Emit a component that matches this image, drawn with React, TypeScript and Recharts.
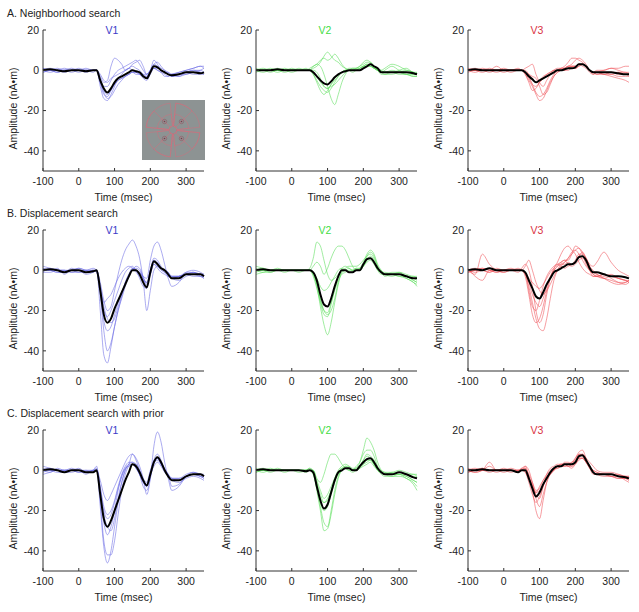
import React from "react";
import { LineChart, Line, XAxis, YAxis } from "recharts";

// time axis (msec), denser around the response
const TIME = [-100, -80, -60, -40, -20, 0, 20, 40, 50, 60, 70, 80, 90, 100, 110, 120, 130, 140, 150, 160, 170, 180, 190, 200, 210, 220, 230, 240, 250, 260, 280, 300, 320, 340, 350];
const X_TICKS = [-100, 0, 100, 200, 300];
const Y_TICKS = [-40, -20, 0, 20];
const ROW_TITLES = ["A. Neighborhood search", "B. Displacement search", "C. Displacement search with prior"];
const AREAS = ["V1", "V2", "V3"];

// A. Neighborhood search
const A_V1_MEAN = [0, 0.5, 0, -0.5, 0, 0, -0.5, 0, 0, -5, -9, -11, -9, -6, -4, -3, -2, -1, 0, -0.5, -1, -3, -4, -1, 2, 1.5, 0, -1, -2, -2.5, -2, -1, -1, -1.5, -1];
const A_V1_TRIALS = [
  [1, 0, -1, 0, 0, 1, 0, 0, 0, -8, -14, -15, -12, -8, -4, -2, 0, 1, 0, -1, -2, -4, -5, -2, 1, 1, 0, -1, -2, -3, -2, -2, -1, -1, -1],
  [0, 1, 0, -1, 0, 0, 0, -1, 0, -6, -12, -13, -10, -7, -5, -4, -3, -2, -1, -1, -2, -3, -4, -1, 3, 2, 0, -1, -2, -2, -3, -1, 0, -1, -2],
  [-1, 0, 1, 0, 0, -1, 0, 0, 0, -3, -6, -5, 2, 6, 5, 3, 0, 1, 3, 4, 5, 2, -2, 0, 5, 3, 0, -1, -1, -2, -1, 0, 1, 2, 2],
  [0, -1, 0, 1, 0, 0, 1, 0, 0, -4, -8, -8, -5, -2, 0, 1, 2, 3, 4, 5, 3, 0, -2, 0, 2, 2, 1, 0, -2, -3, -3, -2, -1, 0, 1],
  [1, 0, 0, 0, -1, 0, 0, 0, 0, -5, -10, -12, -10, -7, -5, -4, -3, -2, -1, -2, -2, -3, -3, -1, 1, 0, -1, -2, -3, -2, -1, 0, 1, 2, 1],
  [0, 0, -1, 0, 1, 0, 0, 0, 0, -2, -5, -6, -4, -3, -2, -1, 0, 1, 2, 1, 0, -2, -3, 0, 3, 4, 2, 0, -1, -3, -2, -1, 0, 0, -1],
  [-1, 0, 0, 0, 0, 0, -1, 0, 0, -6, -11, -14, -13, -10, -7, -5, -3, -2, -1, -1, -1, -2, -2, 0, 1, 0, -1, -3, -3, -2, -2, -1, -2, -2, -2],
];
const A_V2_MEAN = [0, 0, 0, 0.5, 0, 0, 0, 0, 0, -1, -3, -5, -6.5, -7, -5.5, -3.5, -2, -1, -0.5, 0, 0, 0, 0, 1, 2, 3, 2, 1, -1, -1, -1, -1, -1, -1.5, -2];
const A_V2_TRIALS = [
  [0, 1, 0, 0, -1, 0, 0, 0, 1, 2, 3, 2, -2, -8, -14, -17, -12, -6, -2, 0, 0, 1, 2, 3, 4, 4, 2, 0, -1, -2, -2, -1, 0, -1, -2],
  [-1, 0, 0, 1, 0, 0, 1, 0, 0, -2, -6, -10, -12, -10, -7, -4, -2, -1, 0, 0, 0, 0, 0, 2, 3, 3, 1, 0, -1, 0, 2, 0, -1, -2, -2],
  [0, 0, 1, 0, 0, -1, 0, 0, 0, 1, 2, 4, 7, 9, 7, 5, 4, 2, 1, 0, 0, 0, 1, 2, 2, 3, 2, 1, 0, -1, -1, -2, -2, -3, -3],
  [0, -1, 0, 0, 0, 0, 0, 1, 0, 0, -1, -4, -8, -9, -8, -7, -5, -3, -1, 0, 1, 1, 2, 4, 5, 4, 2, 0, -1, -1, 0, -1, -2, -2, -1],
  [1, 0, 0, 0, 1, 0, 0, 0, 0, 2, 3, 5, 6, 5, 6, 8, 6, 3, 1, 0, -1, 0, 1, 2, 3, 2, 1, 0, -1, -1, -1, 0, 1, -1, -1],
  [0, 0, -1, 0, 0, 1, 0, 0, 0, -2, -5, -8, -10, -11, -9, -6, -3, -1, 0, 1, 1, 1, 1, 2, 2, 2, 1, 0, -2, -2, -1, -1, -2, -3, -3],
  [0, 0, 0, -1, 0, 0, 0, 0, 0, -1, -3, -6, -8, -9, -7, -5, -3, -1, 0, 0, 0, 0, 0, 1, 2, 2, 1, 0, 0, 1, 3, 2, 0, -1, -2],
];
const A_V3_MEAN = [0, 0.5, 0, 0, 0, 0, 0, 0, 0, -1, -3, -4.5, -6, -5, -4, -3, -2, -1, 0, 0, 0.5, 1, 1, 1.5, 3, 3, 2, 0, -1, -1, -1, -1, -1.5, -2, -2];
const A_V3_TRIALS = [
  [0, 1, 0, 0, 0, 0, 0, 0, 0, -2, -5, -8, -12, -15, -14, -10, -6, -3, -1, 0, 1, 2, 3, 5, 6, 5, 3, 0, -1, -1, -2, -3, -4, -5, -6],
  [0, 0, 1, 0, -1, 0, 0, 0, 0, 1, 2, 3, -2, -6, -8, -5, -2, 0, 1, 1, 1, 2, 2, 2, 3, 3, 2, 0, -1, 0, 0, 1, 1, 2, 2],
  [-1, 0, 0, 1, 0, 0, -1, 0, 0, -2, -6, -10, -9, -6, -4, -3, -2, -1, 0, 0, 0, 0, 1, 1, 2, 3, 2, 0, -1, -2, -1, -1, -1, -2, -2],
  [0, 0, 0, 0, 2, 0, 0, 0, 0, -1, -3, -7, -11, -13, -12, -9, -5, -2, 0, 1, 2, 4, 6, 6, 5, 4, 2, 0, -1, -1, -2, -2, -3, -3, -3],
  [1, 0, -1, 0, 0, 1, 0, 0, 0, 0, -2, -4, -6, -5, -3, -2, -1, 0, 0, 0, 0, 1, 1, 1, 2, 3, 2, 0, -2, -1, -1, -2, -1, -1, -2],
  [0, 0, 0, -1, 0, 0, 0, 1, 0, -1, -2, -3, -4, -8, -12, -11, -7, -3, -1, 0, 1, 2, 2, 2, 3, 2, 1, -1, -2, -1, 0, 1, 0, -1, -1],
  [0, -1, 0, 0, 0, -1, 0, 0, 0, -1, -4, -7, -8, -6, -4, -2, -1, 0, 0, 1, 1, 1, 2, 2, 3, 3, 2, 0, -1, -2, -2, -1, -2, -2, -3],
];

// B. Displacement search
const B_V1_MEAN = [0, 0.5, 0, -1, 0, 0, -1, -0.5, 0, -10, -22, -26, -24, -19, -15, -11, -7, -3, 0, 0, -2, -6, -8.5, -1, 4.5, 3, 1, 0, -2, -4, -4, -2, -2, -2, -3];
const B_V1_TRIALS = [
  [1, 0, -1, -1, 0, 1, 0, -1, 0, -20, -42, -46, -38, -28, -20, -13, -7, -3, 0, 1, 0, -4, -8, -2, 3, 2, 0, -1, -3, -4, -3, -2, -1, -2, -3],
  [-1, 1, 0, 0, -1, 0, -1, 0, -1, -12, -30, -40, -36, -28, -20, -14, -8, -3, 1, 0, -4, -8, -9, 0, 5, 4, 1, -1, -2, -3, -3, -2, -1, -2, -2],
  [0, 0, 1, -2, 0, -1, 0, 0, 0, -6, -15, -20, -18, -10, -2, 5, 10, 13, 15, 12, 6, -5, -20, -10, 0, 2, 1, 0, -2, -4, -3, -2, -2, -3, -3],
  [2, 1, 0, -1, 1, 0, 0, 1, 0, -8, -18, -24, -26, -24, -18, -12, -6, -2, 1, 0, -1, -4, -6, 0, 6, 5, 2, 0, -1, -4, -5, -3, -2, -2, -3],
  [-1, -1, 0, 0, -1, -1, -1, 0, -1, -10, -20, -23, -20, -15, -10, -5, -1, 1, 2, 0, -1, -3, -4, 5, 12, 14, 10, 3, -4, -8, -6, -1, 0, -1, -2],
  [0, 0, -1, -1, 0, 0, -2, -1, 0, -8, -16, -14, -12, -8, -4, -1, 1, 2, 1, -1, -3, -5, -6, -2, 3, 1, -1, -2, -3, -3, -3, -2, -3, -3, -4],
  [1, 0, 0, 0, 0, 1, 0, 0, 0, -10, -25, -30, -28, -22, -16, -11, -6, -2, 0, 2, 1, -3, -7, 0, 4, 3, 1, 0, -1, -3, -3, -1, -1, -3, -4],
];
const B_V2_MEAN = [0, 0.5, 0, 0, 0, 0, 0, 0, 0, -1, -5, -12, -17, -18, -14, -8, -3, 0, 0, -1, -1, 0, 0, 3, 5.5, 6, 4, 1, -1, -2, -2, -2, -3, -4, -4];
const B_V2_TRIALS = [
  [1, 0, 0, 0, 0, 0, 0, 0, 1, 6, 14, 12, 5, -2, -5, -4, -2, 0, 1, 2, 2, 2, 3, 5, 7, 8, 6, 2, -1, -2, -2, -2, -3, -5, -6],
  [0, 0, -1, 0, 0, 0, 0, 0, 0, 2, 4, 2, -2, 1, 6, 10, 12, 12, 10, 6, 2, 0, 1, 4, 8, 10, 8, 3, 0, -2, -3, -2, -3, -5, -6],
  [-1, 0, 0, 1, 0, 0, -1, 0, 0, -2, -8, -18, -27, -32, -26, -16, -7, -1, 0, -1, -1, 0, 0, 3, 6, 6, 4, 1, -1, -1, -2, -3, -4, -6, -7],
  [0, 1, 0, 0, 0, 0, 0, 0, 0, -1, -6, -14, -20, -22, -20, -14, -6, -1, 0, 1, 0, 0, 0, 2, 5, 6, 4, 0, -1, -2, -2, -1, -3, -4, -5],
  [2, 1, 0, 0, -1, 0, 0, 0, 0, -2, -7, -15, -20, -21, -16, -10, -5, -2, -1, 0, 0, 1, 1, 3, 7, 9, 7, 2, -1, -3, -2, -2, -4, -6, -8],
  [-2, -1, 0, 0, 0, 0, 0, 0, 0, -1, -4, -8, -10, -9, -6, -3, 0, 1, 0, -1, -1, 0, 1, 2, 4, 5, 3, 0, -2, -2, -1, -1, -2, -3, -3],
  [0, -1, -1, 0, 0, 0, 0, 0, 0, -3, -9, -16, -22, -23, -17, -9, -3, 1, 2, 1, 0, 1, 0, 2, 5, 7, 5, 1, 0, -2, -2, -3, -3, -3, -4],
];
const B_V3_MEAN = [0, 0.5, 0, 1, 0, 0, 0, 0, 0, -1, -5, -9, -13, -14, -11, -7, -4, -1, 0, 1, 2, 3, 3, 4, 6.5, 7, 5, 1, -1, -1, -2, -3, -3, -3.5, -4];
const B_V3_TRIALS = [
  [0, -2, 8, 3, 0, -1, 0, 0, 1, 3, 0, -8, -20, -26, -22, -12, -4, 1, 4, 8, 11, 12, 10, 8, 4, 1, -1, -2, -3, -3, -4, -5, -6, -6, -5],
  [-1, 0, 1, 0, -1, 0, 1, 0, 0, -2, -8, -16, -24, -29, -30, -24, -14, -5, 0, 3, 4, 6, 8, 10, 11, 9, 6, 2, 0, -2, -3, -2, -4, -5, -6],
  [0, 1, 0, -1, 0, 0, 0, 0, 0, -1, -4, -6, -8, -9, -7, -4, -1, 1, 3, 4, 5, 5, 8, 12, 11, 8, 3, 0, -2, -3, -2, -4, -6, -7, -6],
  [1, -3, -5, 0, -1, 0, 0, -1, 0, -1, -10, -18, -20, -15, -8, -3, 0, 2, 3, 2, 1, 2, 3, 5, 8, 8, 6, 3, 2, 4, 9, 4, 0, -2, -3],
  [0, 0, 0, -1, 1, 0, 0, 0, 0, 2, 5, 0, -6, -10, -12, -10, -7, -3, 0, 2, 4, 6, 9, 10, 8, 5, 2, 0, -2, -3, -4, -3, -4, -5, -5],
  [0, -1, 0, 1, 0, -1, 0, 0, 0, -3, -12, -22, -26, -24, -18, -10, -4, 0, 2, 4, 5, 3, 2, 3, 5, 6, 4, 0, -3, -3, -2, -3, -4, -5, -6],
  [-1, 0, 1, 0, 0, 0, 0, 1, 0, -2, -6, -12, -16, -18, -14, -8, -3, 0, 2, 3, 3, 4, 3, 4, 7, 9, 6, 2, -1, -2, -4, -6, -7, -6, -5],
];

// C. Displacement search with prior
const C_V1_MEAN = [0, 0.5, 0, -1, 0, 0, -1, -1, 0, -12, -24, -28, -25, -20, -15, -10, -5, -1, 3, 2, -1, -5, -7.5, -2, 4, 6.5, 4, 0, -3, -5, -5, -3, -2, -2, -3];
const C_V1_TRIALS = [
  [1, 0, -1, -1, 0, 0, -1, 0, 0, -18, -38, -46, -40, -28, -16, -6, 0, 3, 4, 3, -2, -8, -10, -4, 5, 8, 5, 0, -3, -5, -5, -3, -2, -2, -3],
  [0, 1, 0, 0, 0, -1, -1, 0, 2, -15, -35, -42, -42, -35, -22, -10, -2, 2, 3, 1, -2, -6, -8, -2, 4, 6, 3, 0, -2, -4, -5, -3, -2, -3, -4],
  [-1, 0, 0, -1, 0, 0, -1, -1, 0, -5, -12, -15, -12, -8, -4, 0, 4, 7, 8, 6, 2, -4, -12, -4, 12, 19, 14, 4, -4, -10, -8, -3, -1, -2, -3],
  [2, 1, 0, 0, 1, 0, 0, 0, 1, -8, -18, -22, -20, -15, -8, -2, 2, 4, 4, 2, -2, -6, -8, -1, 5, 6, 3, 0, -2, -8, -7, -3, -2, -3, -4],
  [0, -1, 1, 0, 0, -1, 0, -1, 0, -10, -22, -28, -30, -24, -14, -6, 0, 3, 8, 5, 0, -4, -6, 0, 4, 5, 3, 0, -3, -4, -4, -3, -2, -3, -3],
  [-2, -1, 0, -1, -1, 0, -2, 0, 0, -12, -26, -32, -28, -20, -10, -3, 1, 3, 3, 1, -2, -5, -7, -2, 2, 4, 2, -1, -3, -4, -4, -2, -1, -2, -2],
  [0, 0, 0, 0, 0, 1, -1, 0, 0, -9, -20, -24, -22, -16, -9, -3, 1, 2, 3, 3, 0, -5, -7, -3, 3, 6, 4, 1, -2, -5, -6, -4, -3, -4, -5],
];
const C_V2_MEAN = [0, 0.5, 0, 0, 0, 0, 0, -0.5, 0, -1, -8, -15, -19, -17, -11, -5, -1, 0, 1, 1, 0, 0, 2, 4, 5.5, 6, 4, 1, -1, -2, -2, -1, -2, -3.5, -4];
const C_V2_TRIALS = [
  [-1, 0, 0, 0, 0, 0, -1, 0, 1, 0, -10, -20, -30, -29, -22, -12, -4, 0, 1, 1, 0, 1, 4, 10, 16, 14, 10, 4, 0, -2, -2, -2, -4, -6, -8],
  [0, 1, 0, 0, 0, 0, 0, 0, 0, 0, -4, -6, -2, 4, 8, 8, 6, 3, 1, 0, 0, 2, 4, 8, 10, 10, 7, 2, 0, -1, -2, -2, -3, -5, -6],
  [0, 0, -1, 0, 0, 0, 0, 0, 1, -2, -9, -18, -26, -28, -20, -10, -3, 0, 1, 1, 0, 0, 2, 5, 8, 7, 5, 1, -1, -2, -3, -3, -4, -7, -10],
  [1, 0, 0, 1, 0, 0, 0, 0, 0, -1, -7, -14, -16, -14, -10, -5, -2, 0, 2, 2, 1, 1, 2, 3, 4, 5, 3, 0, -1, -2, -1, -1, -2, -3, -3],
  [0, -1, 0, 0, 0, 0, 0, -1, 0, -1, -6, -12, -16, -15, -10, -4, 0, 2, 3, 2, 0, 0, 1, 3, 5, 5, 3, 1, -1, -2, -2, -1, -2, -2, -3],
  [-1, 0, 0, 0, -1, 0, 0, 0, 0, -2, -8, -16, -20, -18, -12, -6, -1, 1, 1, 0, -1, 0, 2, 5, 7, 6, 3, 0, -2, -3, -3, -2, -3, -5, -6],
  [0, 0, 1, 0, 0, 0, 0, 0, 0, 0, -5, -10, -14, -12, -8, -4, -1, 1, 2, 1, 0, 0, 1, 2, 3, 4, 2, 0, -1, -1, -1, 0, -1, -2, -2],
];
const C_V3_MEAN = [0, 0, 0.5, 0, 0, 0, 0, -1, 0, 0, -4, -9, -13, -11, -7, -4, -1, 1, 2, 2, 3, 3, 3, 4, 7, 7.5, 5, 2, -1, -2, -2, -2, -3, -3.5, -4];
const C_V3_TRIALS = [
  [0, 0, 1, 0, 0, 0, 0, 0, 1, 2, -3, -10, -20, -24, -15, -6, -1, 1, 2, 3, 3, 2, 3, 6, 9, 10, 6, 2, -1, -2, -2, -3, -4, -4, -5],
  [0, -1, 0, 2, 0, 0, -1, 0, 0, 1, -2, -6, -10, -9, -5, -2, 0, 1, 1, 2, 3, 3, 4, 6, 8, 7, 5, 2, -1, -2, -2, -2, -3, -4, -5],
  [-1, 0, 1, 0, 0, -1, 0, -1, 0, -1, -6, -12, -16, -13, -8, -4, -2, 0, 2, 2, 2, 3, 4, 5, 8, 8, 5, 2, 0, -1, -2, -3, -3, -5, -6],
  [0, -1, 0, 4, 0, 0, 1, 0, 0, 2, 0, -6, -12, -14, -8, -2, 1, 2, 3, 3, 3, 3, 2, 3, 6, 8, 6, 4, 2, 0, -1, -1, -2, -3, -3],
  [1, 0, 0, 0, -1, 0, 0, -1, 1, 1, -4, -8, -11, -10, -7, -4, -2, 0, 2, 2, 2, 2, 2, 4, 6, 6, 4, 1, -2, -2, -2, -2, -3, -3, -4],
  [0, 1, 0, 0, 0, 1, 0, 0, 0, -1, -4, -7, -14, -18, -12, -6, -2, 0, 1, 2, 4, 4, 3, 4, 6, 6, 4, 1, -1, -2, -3, -3, -4, -4, -4],
  [-1, 0, 0, -1, 0, 0, 0, -1, 0, 0, -3, -8, -11, -8, -5, -3, -1, 1, 2, 3, 3, 2, 1, 3, 5, 6, 4, 2, 0, -1, -2, -2, -2, -3, -3],
];

const GRID = [
  [[A_V1_MEAN, A_V1_TRIALS], [A_V2_MEAN, A_V2_TRIALS], [A_V3_MEAN, A_V3_TRIALS]],
  [[B_V1_MEAN, B_V1_TRIALS], [B_V2_MEAN, B_V2_TRIALS], [B_V3_MEAN, B_V3_TRIALS]],
  [[C_V1_MEAN, C_V1_TRIALS], [C_V2_MEAN, C_V2_TRIALS], [C_V3_MEAN, C_V3_TRIALS]],
];

const TRACE_COLOR: Record<string, string> = { V1: "#6868e4", V2: "#55dd55", V3: "#ee4d55" };
const LABEL_COLOR: Record<string, string> = { V1: "#3a3ac8", V2: "#44dd44", V3: "#d9323f" };

const FONT = "'Liberation Sans', Arial, sans-serif";
const COL_LEFT = [0, 213, 425];
const ROW_TOP = [0, 200, 400];
const AXIS_W = 43;
const PLOT_W = 161;

const yLabel = {
  content: (p: any) => {
    const vb = p.viewBox;
    const cx = vb.x + vb.width - 30;
    const cy = vb.y + vb.height / 2 + 8;
    return (
      <text x={cx} y={cy} dy="0.35em" textAnchor="middle" fontSize={10.5} fill="#222"
        transform={`rotate(-90 ${cx} ${cy})`}>
        Amplitude (nA•m)
      </text>
    );
  },
};

const xLabel = {
  content: (p: any) => {
    const vb = p.viewBox;
    return (
      <text x={vb.x + vb.width / 2} y={vb.y + 26} dy="0.35em" textAnchor="middle" fontSize={10.5} fill="#222">
        Time (msec)
      </text>
    );
  },
};

function sector(cx: number, cy: number, r0: number, r1: number, a0: number, a1: number) {
  const rad = (a: number) => (a * Math.PI) / 180;
  const p = (r: number, a: number) => `${cx + r * Math.cos(rad(a))},${cy + r * Math.sin(rad(a))}`;
  return `M${p(r0, a0)} L${p(r1, a0)} A${r1},${r1} 0 0 1 ${p(r1, a1)} L${p(r0, a1)} A${r0},${r0} 0 0 0 ${p(r0, a0)} Z`;
}

const Inset = () => {
  const cx = 31, cy = 30;
  return (
    <svg width={63} height={60} style={{ position: "absolute", left: 142, top: 100 }}>
      <rect width={63} height={60} fill="#8d9393" />
      {[0, 90, 180, 270].map((b) => {
        const mid = b + 45;
        const dx = cx + 12 * Math.cos((mid * Math.PI) / 180);
        const dy = cy + 12 * Math.sin((mid * Math.PI) / 180);
        return (
          <g key={b} fill="none" stroke="#cf6f7d" strokeWidth={0.6} strokeOpacity={0.85}>
            <path d={sector(cx, cy, 4, 27, b + 6, b + 84)} />
            <path d={sector(cx, cy, 4, 16, b + 6, b + 84)} />
            <path d={sector(cx, cy, 4, 27, b + 6, mid)} />
            <circle cx={dx} cy={dy} r={2.2} stroke="#93505c" strokeWidth={0.6} />
            <circle cx={dx} cy={dy} r={0.8} fill="#7a3a48" stroke="none" />
          </g>
        );
      })}
    </svg>
  );
};

const Panel = ({ row, col }: { row: number; col: number }) => {
  const area = AREAS[col];
  const [mean, trials] = GRID[row][col] as [number[], number[][]];
  const data = TIME.map((t, i) => {
    const d: Record<string, number> = { t, mean: mean[i] };
    trials.forEach((tr, k) => (d["s" + k] = tr[i]));
    return d;
  });
  return (
    <div style={{ position: "absolute", left: COL_LEFT[col], top: ROW_TOP[row], width: 210, height: 206 }}>
      <LineChart width={210} height={206} data={data} margin={{ top: 30, right: 210 - AXIS_W - PLOT_W, bottom: 0, left: 0 }}>
        <XAxis type="number" dataKey="t" domain={[-100, 350]} ticks={X_TICKS} height={35}
          axisLine={{ stroke: "#333" }} tickLine={{ stroke: "#333" }} tickSize={-3} tickMargin={10}
          tick={{ fontSize: 10.5, fill: "#222" }} label={xLabel} />
        <YAxis type="number" domain={[-50, 20]} ticks={Y_TICKS} width={AXIS_W}
          axisLine={{ stroke: "#333" }} tickLine={{ stroke: "#333" }} tickSize={-3} tickMargin={7}
          tick={{ fontSize: 10.5, fill: "#222" }} label={yLabel} />
        {trials.map((_, k) => (
          <Line key={k} type="monotone" dataKey={"s" + k} stroke={TRACE_COLOR[area]} strokeOpacity={0.7}
            strokeWidth={0.8} dot={false} isAnimationActive={false} />
        ))}
        <Line type="monotone" dataKey="mean" stroke="#000" strokeWidth={2} dot={false} isAnimationActive={false} />
      </LineChart>
      <div style={{ position: "absolute", left: AXIS_W + 69 - 20, width: 40, top: 23, lineHeight: "14px",
        textAlign: "center", fontSize: 10.5, color: LABEL_COLOR[area] }}>
        {area}
      </div>
    </div>
  );
};

export default function App() {
  return (
    <div style={{ position: "absolute", left: 0, top: 0, width: 639, height: 612, background: "#fff", fontFamily: FONT }}>
      {GRID.map((cols, r) => cols.map((_, c) => <Panel key={`${r}-${c}`} row={r} col={c} />))}
      {ROW_TITLES.map((title, r) => (
        <div key={title} style={{ position: "absolute", left: 7, top: ROW_TOP[r] + 6, lineHeight: "14px", fontSize: 10.5, color: "#222" }}>
          {title}
        </div>
      ))}
      <Inset />
    </div>
  );
}
